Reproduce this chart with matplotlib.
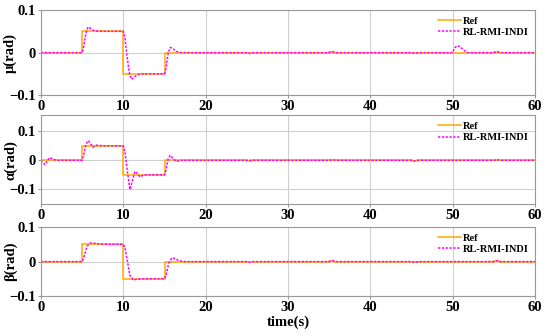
import matplotlib
matplotlib.use("Agg")
import matplotlib.pyplot as plt

plt.rcParams['font.family'] = ['Liberation Serif', 'DejaVu Serif']
plt.rcParams['font.weight'] = 'bold'

# reference step signal (same for all three channels)
ref_t = [0, 5, 10, 15, 25, 25.6, 35, 35.6, 45, 45.6, 55, 55.6, 60]
ref_v = [0, 0.05, -0.05, 0, -0.002, 0, 0.002, 0, -0.002, 0, 0.002, 0, 0]

# RL-RMI-INDI responses
mu_t = [0, 5.0, 5.2, 5.45, 5.7, 6.0, 6.4, 7.0, 8.0, 10.0, 10.2, 10.45, 10.75, 11.0,
        11.3, 11.7, 12.3, 13.0, 15.0, 15.2, 15.45, 15.7, 16.0, 16.4, 17.0, 18.0,
        25.0, 25.4, 25.8, 35.0, 35.4, 35.8, 45.0, 45.4, 45.8, 50.0, 50.2, 50.5,
        50.9, 51.3, 51.8, 55.0, 55.4, 55.8, 60]
mu_v = [0, 0, 0.015, 0.045, 0.06, 0.057, 0.052, 0.05, 0.05, 0.05, 0.035, -0.01, -0.05, -0.063,
        -0.058, -0.052, -0.05, -0.05, -0.05, -0.035, 0.0, 0.012, 0.01, 0.003, 0.0, 0.0,
        0.0, -0.002, 0.0, 0.0, 0.002, 0.0, 0.0, -0.002, 0.0, 0.0, 0.01, 0.016,
        0.014, 0.006, 0.0, 0.0, 0.002, 0.0, 0]

alpha_t = [0, 0.2, 0.5, 0.8, 1.1, 1.5, 2.0, 5.0, 5.2, 5.45, 5.75, 6.0, 6.3, 6.7, 7.5,
           10.0, 10.2, 10.5, 10.8, 11.1, 11.4, 11.7, 12.0, 12.5, 13.0, 15.0, 15.2,
           15.45, 15.7, 16.0, 16.4, 17.0, 18.0, 35.0, 35.4, 35.8, 45.0, 45.4, 45.8,
           55.0, 55.4, 55.8, 60]
alpha_v = [0, -0.008, -0.015, 0.0, 0.01, 0.003, 0.0, 0.0, 0.02, 0.055, 0.068, 0.058, 0.045, 0.052, 0.05,
           0.05, 0.03, -0.04, -0.1, -0.07, -0.038, -0.045, -0.057, -0.05, -0.05, -0.05, -0.03,
           0.005, 0.017, 0.008, -0.004, 0.0, 0.0, 0.0, 0.002, 0.0, 0.0, -0.002, 0.0,
           0.0, 0.002, 0.0, 0]

beta_t = [0, 5.0, 5.3, 5.6, 6.0, 6.5, 7.2, 8.0, 10.0, 10.2, 10.5, 10.8, 11.2, 11.8,
          12.5, 15.0, 15.2, 15.5, 15.9, 16.3, 16.8, 17.5, 25.0, 25.4, 25.8, 35.0,
          35.4, 35.8, 45.0, 45.4, 45.8, 55.0, 55.4, 55.8, 60]
beta_v = [0, 0, 0.02, 0.045, 0.054, 0.053, 0.051, 0.05, 0.05, 0.04, 0.0, -0.04, -0.053, -0.051,
          -0.05, -0.05, -0.038, -0.005, 0.011, 0.008, 0.002, 0.0, 0.0, -0.003, 0.0, 0.0,
          0.003, 0.0, 0.0, -0.003, 0.0, 0.0, 0.003, 0.0, 0]

panels = [
    (mu_t, mu_v, u'\u03bc(rad)', (-0.1, 0.1), [0.0745, 0.717, 0.8985, 0.253]),
    (alpha_t, alpha_v, u'\u03b1(rad)', (-0.15, 0.155), [0.0745, 0.393, 0.8985, 0.264]),
    (beta_t, beta_v, u'\u03b2(rad)', (-0.1, 0.1), [0.0745, 0.119, 0.8985, 0.205]),
]

fig = plt.figure(figsize=(5.5, 3.36), dpi=100)

for i, (t, v, lab, ylim, pos) in enumerate(panels):
    ax = fig.add_axes(pos)
    ax.plot(ref_t, ref_v, drawstyle='steps-post', color='#FFAA00', lw=1.1, label='Ref')
    ax.plot(t, v, color='#FF00FF', lw=1.1, ls=(0, (1.5, 1)), label='RL-RMI-INDI')
    ax.set_xlim(0, 60)
    ax.set_ylim(*ylim)
    ax.set_xticks([0, 10, 20, 30, 40, 50, 60])
    ax.set_yticks([-0.1, 0, 0.1])
    ax.set_yticklabels(['\u22120.1', '0', '0.1'])
    ax.grid(True, color='#d0d0d0', lw=0.8)
    ax.set_axisbelow(True)
    for s in ax.spines.values():
        s.set_color('#999999')
        s.set_linewidth(0.8)
    ax.tick_params(labelsize=10.5, length=2, color='#999999', pad=1.5)
    for tl in ax.get_xticklabels() + ax.get_yticklabels():
        tl.set_fontweight('bold')
    ax.set_ylabel(lab, fontsize=10.5, fontweight='bold')
    ax.yaxis.set_label_coords(-0.048, 0.5)
    ax.legend(loc='upper right', frameon=False,
              prop={'weight': 'bold', 'size': 7.5}, handlelength=2.2,
              handletextpad=0.2, labelspacing=0.2, borderaxespad=0.2)
    if i == 2:
        ax.set_xlabel('time(s)', fontsize=10.5, fontweight='bold', labelpad=1)

fig.savefig('out.png', dpi=100)
